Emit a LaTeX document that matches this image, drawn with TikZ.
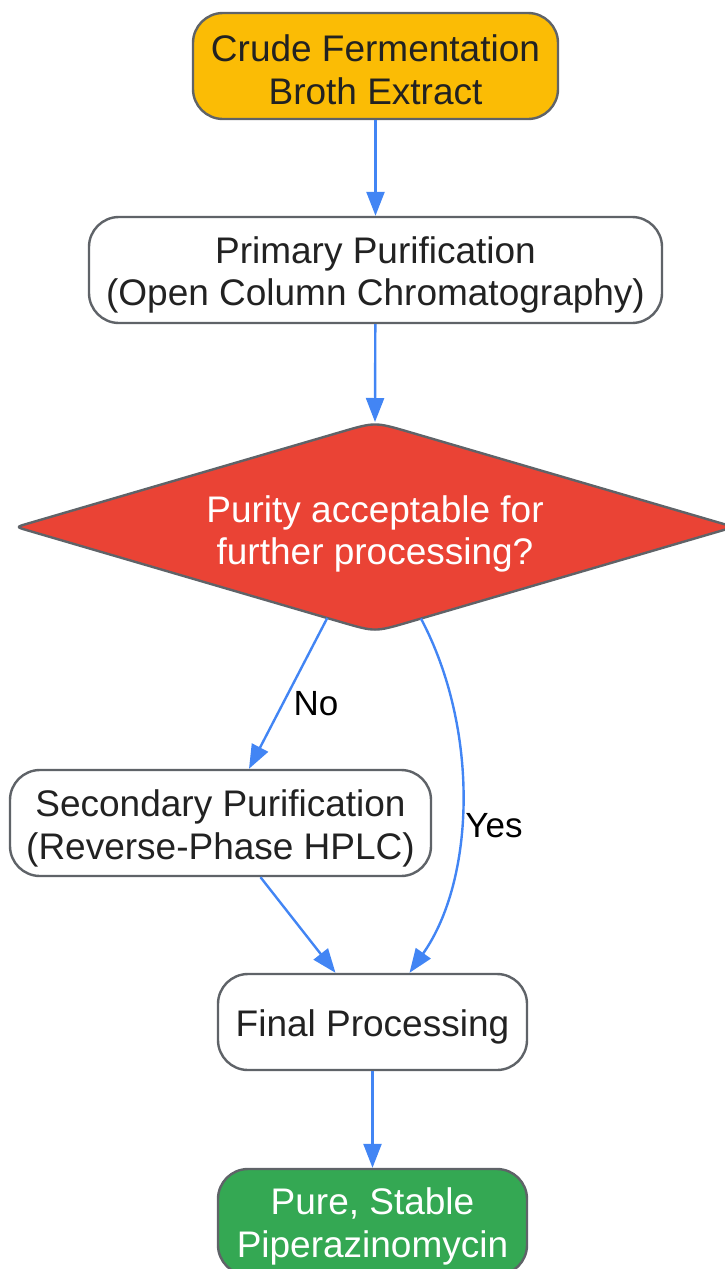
\documentclass[tikz,border=0pt]{standalone}
\usepackage{fontspec}
\setmainfont{Liberation Sans}
\usetikzlibrary{arrows.meta,calc}
\definecolor{bordercol}{HTML}{5F6368}
\definecolor{textcol}{HTML}{222222}
\definecolor{edgeblue}{HTML}{4285F4}
\definecolor{startcol}{HTML}{FBBC05}
\definecolor{deccol}{HTML}{EA4335}
\definecolor{endcol}{HTML}{34A853}
\newcommand{\lift}[1]{\rule{0pt}{#1pt}}
\begin{document}
\begin{tikzpicture}[x=1pt,y=-1pt,
  box/.style={draw=bordercol, line width=2.4pt, rounded corners=30pt, fill=white,
    align=center, text=textcol, font=\fontsize{37}{42.5}\selectfont, inner sep=0pt},
  dectext/.style={align=center, text=white, font=\fontsize{37}{42.5}\selectfont, inner sep=0pt},
  flow/.style={draw=edgeblue, line width=2.4pt, -{Triangle[length=24pt,width=18pt]}},
  lab/.style={font=\fontsize{35}{40}\selectfont, text=black, inner sep=0pt}]
\useasboundingbox (0,0) rectangle (724,1269);

\node[box, fill=startcol, minimum width=365pt, minimum height=106pt] (crude) at (375.5,66) {\lift{34}Crude Fermentation\\Broth Extract};
\node[box, minimum width=573pt, minimum height=106pt] (prim) at (375.5,270) {\lift{37}Primary Purification\\(Open Column Chromatography)};

% decision diamond
\coordinate (dT) at (375,422);
\coordinate (dR) at (734,527);
\coordinate (dB) at (375,632);
\coordinate (dL) at (16,527);
\path[draw=bordercol, fill=deccol, line width=2.4pt, line join=round]
  ($(dT)!35pt!(dL)$) .. controls (dT) .. ($(dT)!35pt!(dR)$)
  -- ($(dR)!12pt!(dT)$) .. controls (dR) .. ($(dR)!12pt!(dB)$)
  -- ($(dB)!35pt!(dR)$) .. controls (dB) .. ($(dB)!35pt!(dL)$)
  -- ($(dL)!12pt!(dB)$) .. controls (dL) .. ($(dL)!12pt!(dT)$) -- cycle;
\node[dectext] (dec) at (375,527) {\lift{41}Purity acceptable for\\further processing?};
\coordinate (dNo) at ($(dL)!0.867!(dB)$);
\coordinate (dYes) at ($(dR)!0.872!(dB)$);

\node[box, minimum width=421pt, minimum height=106pt] (sec) at (220.5,823) {\lift{38}Secondary Purification\\(Reverse-Phase HPLC)};
\node[box, minimum width=309pt, minimum height=96pt] (fin) at (372.5,1022) {\lift{37}Final Processing};
\node[box, fill=endcol, text=white, minimum width=309pt, minimum height=106pt] (pure) at (372.5,1222) {\lift{36}Pure, Stable\\Piperazinomycin};

\draw[flow] (crude) -- (prim);
\draw[flow] (prim) -- (dT);
\draw[flow] (dNo) -- ($(sec.north)+(28.5,0)$);
\draw[flow] (dYes) .. controls (480,730) and (475,880) .. ($(fin.north)+(37,0)$);
\draw[flow] ($(sec.south)+(40,0)$) -- ($(fin.north)+(-37,0)$);
\draw[flow] (fin) -- (pure);

\node[lab] (lno) at (316,704) {No};
\node[lab] (lyes) at (494,826) {Yes};
\end{tikzpicture}
\end{document}
